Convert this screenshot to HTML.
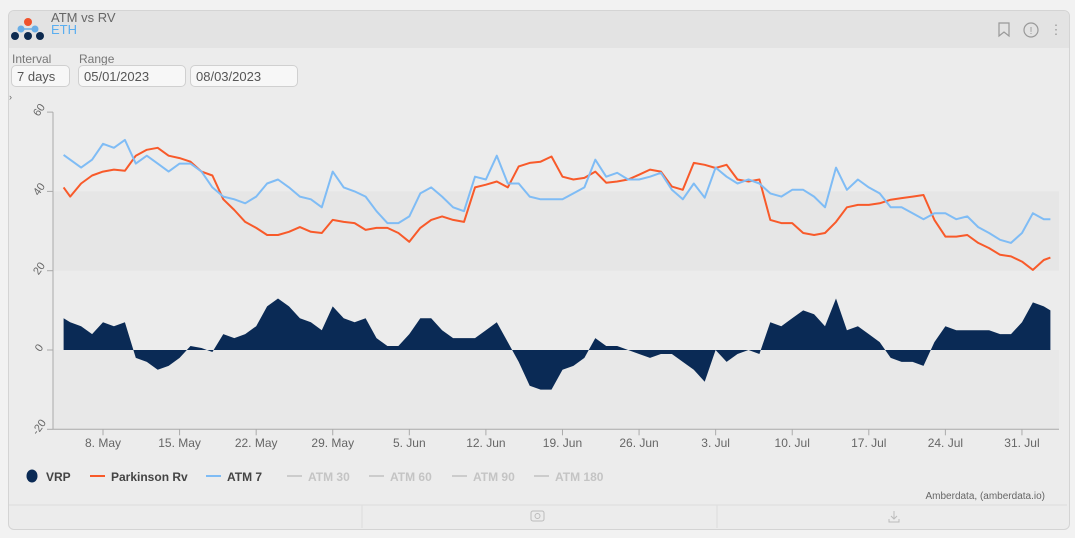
<!DOCTYPE html>
<html><head><meta charset="utf-8">
<style>
body{margin:0;width:1075px;height:538px;background:#f2f2f2;font-family:"Liberation Sans",sans-serif;overflow:hidden;position:relative}
.card{position:absolute;left:8px;top:10px;width:1060px;height:518px;background:#ececec;border:1px solid #d4d4d4;border-radius:6px;overflow:hidden}
.hdr{position:absolute;left:0;top:0;width:1060px;height:37px;background:#e3e3e3}
.inp{position:absolute;top:55px;height:22px;border:1px solid #d0d0d0;border-radius:5px;background:#f7f7f7;font-size:13px;color:#555;line-height:22px;padding-left:5px;box-sizing:border-box}
.lbl{position:absolute;top:42px;font-size:12px;color:#777}
</style></head><body>
<div class="card">
 <div class="hdr"></div>
</div>
<svg width="1075" height="538" style="position:absolute;left:0;top:0" id="svg">
 <g>
  <circle cx="28" cy="22" r="4" fill="#f0522c"/>
  <circle cx="21" cy="29" r="3.5" fill="#6aaee6"/><circle cx="35" cy="29" r="3.5" fill="#6aaee6"/>
  <line x1="21" y1="29" x2="35" y2="29" stroke="#6aaee6" stroke-width="1.5"/>
  <circle cx="15" cy="36" r="4" fill="#0d2a4f"/><circle cx="28" cy="36" r="4" fill="#0d2a4f"/><circle cx="40" cy="36" r="4" fill="#0d2a4f"/>
 </g>
 <text x="51" y="22" font-size="13" fill="#666">ATM vs RV</text>
 <text x="51" y="34" font-size="13" fill="#5aaef0">ETH</text>
 <g fill="none" stroke="#999" stroke-width="1.2">
  <path d="M999 23v13l5-4 5 4v-13z"/>
  <circle cx="1031" cy="30" r="7"/>
 </g>
 <text x="1031" y="34" font-size="10" fill="#999" text-anchor="middle">!</text>
 <text x="1056" y="34" font-size="13" fill="#999" text-anchor="middle">⋮</text>
 <g id="plot"></g>
 <text x="1045" y="499" font-size="10" fill="#666" text-anchor="end">Amberdata, (amberdata.io)</text>
 <line x1="9" y1="505" x2="1067" y2="505" stroke="#ddd"/>
 <line x1="362" y1="505" x2="362" y2="528" stroke="#ddd"/>
 <line x1="717" y1="505" x2="717" y2="528" stroke="#ddd"/>
 <g><rect x="531" y="511" width="13" height="10" rx="2" fill="none" stroke="#bbb"/><circle cx="537.5" cy="516" r="2.5" fill="none" stroke="#bbb"/></g>
 <g stroke="#bbb" fill="none"><path d="M894 511v8M891 516l3 3 3-3M889 519v3h10v-3"/></g>
</svg>
<div class="lbl" style="left:12px;top:52px">Interval</div>
<div class="lbl" style="left:79px;top:52px">Range</div>
<div class="inp" style="left:11px;top:65px;width:59px">7 days</div>
<div class="inp" style="left:78px;top:65px;width:108px">05/01/2023</div>
<div class="inp" style="left:190px;top:65px;width:108px">08/03/2023</div>
<div style="position:absolute;left:9px;top:92px;font-size:9px;color:#666">›</div>
<script>
const days=[-3.6,-3,-2,-1,0,1,2,3,4,5,6,7,8,9,10,11,12,13,14,15,16,17,18,19,20,21,22,23,24,25,26,27,28,29,30,31,32,33,34,35,36,37,38,39,40,41,42,43,44,45,46,47,48,49,50,51,52,53,54,55,56,57,58,59,60,61,62,63,64,65,66,67,68,69,70,71,72,73,74,75,76,77,78,79,80,81,82,83,84,85,86,86.6];
const atm7=[49.2,48,46,48,52,51,53,47,49,47,45,47,47,45,41,38.7,38,37,38.7,42,43,41,38.7,38,36,45,41,40,38.7,35,32,32,33.7,39.5,41,38.7,36,35,43.7,43,49,42,42,38.7,38,38,38,39.5,41,48,43.7,44.7,43,43,43.7,44.7,40.4,38,42,38.4,46,43.7,42,43,42,39.5,38.7,40.4,40.4,38.7,36,46,40.4,43,41,39.5,36,36,34.5,33,34.5,34.5,33,33.7,31,29.5,27.8,27,29.5,34.5,33,33];
const parkinsonRv=[41,38.7,42,44,45,45.5,45.2,49,50.5,51,49,48.4,47.5,45,44,38,35.3,32.3,30.8,29,29,29.8,31,29.8,29.5,32.8,32.3,32,30.3,30.8,30.8,29.5,27.3,30.8,32.8,33.7,32.8,32.3,41,41.7,42.5,41,46.3,47.2,47.5,48.8,43.7,43,43.4,45,42.2,42.5,43,44.2,45.5,45,41.2,40.4,47.2,46.7,45.9,46.7,43,42.5,43,32.8,32,32,29.5,29,29.5,32.3,36,36.6,36.6,37,37.9,38.3,38.7,39.1,32.8,28.6,28.6,29,27,25.7,24,23.6,22.3,20.2,22.7,23.3];
const vrp=[8,7,6,4,7,6,7,-2,-3,-5,-4,-2,1,0.5,-0.5,4,3,4,6,11,13,11,8,7,5,11,8,7,8,3,1,1,4,8,8,5,3,3,3,5,7,2,-3,-9,-10,-10,-5,-4,-2,3,1,1,0,-1,-2,-1,-1,-3,-5,-8,0,-3,-1,0,-1,7,6,8,10,9,6,13,5,6,4,2,-2,-3,-3,-4,2,6,5,5,5,5,4,4,7,12,11,10];
const yTicks=[60,40,20,0,-20];
const xTickDays=[0,7,14,21,28,35,42,49,56,63,70,77,84];
const xTickLabels=["8. May","15. May","22. May","29. May","5. Jun","12. Jun","19. Jun","26. Jun","3. Jul","10. Jul","17. Jul","24. Jul","31. Jul"];
const X=d=>103+d*10.94;
const Y=v=>350-v*3.965;
const NS="http://www.w3.org/2000/svg";
const g=document.getElementById('plot');
function mk(t,a){const e=document.createElementNS(NS,t);for(const k in a)e.setAttribute(k,a[k]);g.appendChild(e);return e;}
let e;
e=mk('rect',{x:53,y:Y(40),width:1006,height:Y(20)-Y(40),fill:'#e6e6e6'});


e=mk('rect',{x:53,y:Y(0),width:1006,height:Y(-20)-Y(0),fill:'#e8e8e8'});


// axes
e=mk('line',{x1:53,y1:Y(60),x2:53,y2:Y(-20),stroke:'#aaa'});


e=mk('line',{x1:53,y1:Y(-20),x2:1059,y2:Y(-20),stroke:'#aaa'});


yTicks.forEach(v=>{
 mk('line',{x1:47,y1:Y(v),x2:53,y2:Y(v),stroke:'#aaa'});
 e=mk('text',{x:40,y:Y(v)+4,'font-size':11,fill:'#666','text-anchor':'middle',transform:`rotate(-55 37 ${Y(v)})`});
 e.textContent=v;
 
 
});
xTickDays.forEach((d,i)=>{
 mk('line',{x1:X(d),y1:Y(-20),x2:X(d),y2:Y(-20)+6,stroke:'#aaa'});
 e=mk('text',{x:X(d),y:447,'font-size':12,fill:'#666','text-anchor':'middle'});
 e.textContent=xTickLabels[i];
 
 
});
// VRP area
let p=`M${X(days[0])} ${Y(0)}`;
days.forEach((d,i)=>{p+=`L${X(d).toFixed(1)} ${Y(vrp[i]).toFixed(1)}`;});
p+=`L${X(days[days.length-1])} ${Y(0)}Z`;
e=mk('path',{d:p,fill:'#0a2a55'});


function line(arr,col,name){
 const d=days.map((x,i)=>(i?'L':'M')+X(x).toFixed(1)+' '+Y(arr[i]).toFixed(1)).join('');
 const el=mk('path',{d:d,fill:'none',stroke:col,'stroke-width':2,'stroke-linejoin':'round'});
 return el;
}
e=line(parkinsonRv,'#f85a2a');


e=line(atm7,'#7fbcf5');


// legend
const legNames=["VRP","Parkinson Rv","ATM 7","ATM 30","ATM 60","ATM 90","ATM 180"];
const legCols=["#0a2a55","#f85a2a","#7fbcf5","#ccc","#ccc","#ccc","#ccc"];
const legX=[26,90,206,287,369,452,534];
legNames.forEach((n,i)=>{
 const lg=document.createElementNS(NS,'g');g.appendChild(lg);
 
 
 let s;
 if(i===0){s=document.createElementNS(NS,'ellipse');s.setAttribute('cx',legX[i]+6);s.setAttribute('cy',476);s.setAttribute('rx',5.5);s.setAttribute('ry',6.5);s.setAttribute('fill',legCols[i]);}
 else{s=document.createElementNS(NS,'line');s.setAttribute('x1',legX[i]);s.setAttribute('x2',legX[i]+15);s.setAttribute('y1',476);s.setAttribute('y2',476);s.setAttribute('stroke',legCols[i]);s.setAttribute('stroke-width',2);}
 lg.appendChild(s);
 const t=document.createElementNS(NS,'text');
 t.setAttribute('x',legX[i]+(i===0?20:21));t.setAttribute('y',481);t.setAttribute('font-size',12);t.setAttribute('font-weight','bold');
 t.setAttribute('fill',i<3?'#444':'#c4c4c4');t.textContent=n;lg.appendChild(t);
});
</script>
</body></html>
